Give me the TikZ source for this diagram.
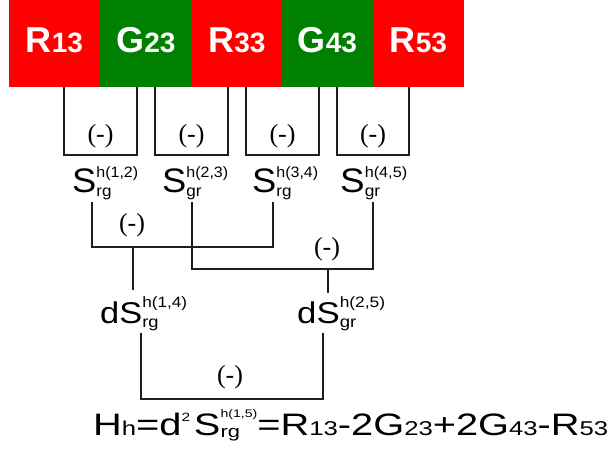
\documentclass[tikz,border=0pt]{standalone}
\usepackage{fontspec}
\usepackage{graphicx}
\setmainfont{Liberation Sans}
\newfontfamily\tms{Liberation Serif}
\definecolor{barred}{RGB}{255,0,0}
\definecolor{bargreen}{RGB}{0,128,0}
\definecolor{wirecol}{RGB}{30,30,30}
\newcommand\fs[1]{\fontsize{#1}{#1}\selectfont}
% main, sup, sub, raise, lower
\newcommand\SL[5]{{#1}\rlap{\raisebox{-#5}{#3}}\raisebox{#4}{#2}}
\tikzset{
  cell/.style={inner sep=0pt, outer sep=0pt, minimum height=87pt, anchor=north west},
  celltxt/.style={text=white, font=\bfseries, inner sep=0pt, anchor=base},
  wire/.style={line width=1.3pt, draw=wirecol},
  minus/.style={font=\tms\fs{26}, inner sep=0pt},
  slab/.style={inner sep=0pt, anchor=base west},
}
\begin{document}
\begin{tikzpicture}[x=1pt,y=-1pt]
\useasboundingbox[fill=white] (0,0) rectangle (611,452);
% colour bar
\node[cell, fill=barred,   minimum width=91pt] (c1) at (9,0) {};
\node[cell, fill=bargreen, minimum width=92pt] (c2) at (100,0) {};
\node[cell, fill=barred,   minimum width=90pt] (c3) at (192,0) {};
\node[cell, fill=bargreen, minimum width=91pt] (c4) at (282,0) {};
\node[cell, fill=barred,   minimum width=91pt] (c5) at (373,0) {};
\node[celltxt] (t1) at (54.5,53) {\fs{36}R\fs{28}13};
\node[celltxt] (t2) at (146,53) {\fs{36}G\fs{28}23};
\node[celltxt] (t3) at (237,53) {\fs{36}R\fs{28}33};
\node[celltxt] (t4) at (327.5,53) {\fs{36}G\fs{28}43};
\node[celltxt] (t5) at (418.5,53) {\fs{36}R\fs{28}53};
% first level brackets
\foreach \i/\l/\r in {1/64/137, 2/155/228, 3/246/319, 4/337/409}{
  \coordinate (p\i a) at (\l,87);
  \coordinate (p\i b) at (\l,155);
  \coordinate (p\i c) at (\r,155);
  \coordinate (p\i d) at (\r,87);
  \draw[wire] (p\i a) -- (p\i b) -- (p\i c) -- (p\i d);
}
\node[minus] (m1) at (100.5,136.5) {(-)};
\node[minus] (m2) at (191.5,136.5) {(-)};
\node[minus] (m3) at (282.5,136.5) {(-)};
\node[minus] (m4) at (373,136.5) {(-)};
% S labels
\node[slab] (s1) at (72,192) {\resizebox{66pt}{\height}{\SL{\fs{34}S}{\fs{15}h(1,2)}{\fs{16}rg}{15pt}{4pt}}};
\node[slab] (s2) at (162,192) {\resizebox{66pt}{\height}{\SL{\fs{34}S}{\fs{15}h(2,3)}{\fs{16}gr}{15pt}{4pt}}};
\node[slab] (s3) at (252,192) {\resizebox{66pt}{\height}{\SL{\fs{34}S}{\fs{15}h(3,4)}{\fs{16}rg}{15pt}{4pt}}};
\node[slab] (s4) at (340,192) {\resizebox{67pt}{\height}{\SL{\fs{34}S}{\fs{15}h(4,5)}{\fs{16}gr}{15pt}{4pt}}};
% second level brackets
\coordinate (q1) at (92,202);
\coordinate (q2) at (192,202);
\coordinate (q3) at (273,202);
\coordinate (q4) at (373,202);
\coordinate (qa1) at (92,247);
\coordinate (qa2) at (273,247);
\coordinate (qb1) at (192,269);
\coordinate (qb2) at (373,269);
\draw[wire] (q1) -- (qa1) -- (qa2) -- (q3);
\draw[wire] (q2) -- (qb1) -- (qb2) -- (q4);
\node[minus] (ma) at (132,225) {(-)};
\node[minus] (mb) at (327,249) {(-)};
\coordinate (sa) at (133,247);
\coordinate (sb) at (328,269);
% dS labels
\node[slab] (d1) at (100,323) {\resizebox{87pt}{\height}{\SL{\fs{30}dS}{\fs{15}h(1,4)}{\fs{16}rg}{16pt}{4pt}}};
\node[slab] (d2) at (297,323) {\resizebox{88pt}{\height}{\SL{\fs{30}dS}{\fs{15}h(2,5)}{\fs{16}gr}{16pt}{4pt}}};
\coordinate (ea) at (133,290);
\coordinate (eb) at (328,293);
\draw[wire] (sa) -- (ea);
\draw[wire] (sb) -- (eb);
% third level bracket
\coordinate (r1) at (141,333);
\coordinate (r2) at (141,399);
\coordinate (r3) at (323,399);
\coordinate (r4) at (323,333);
\draw[wire] (r1) -- (r2) -- (r3) -- (r4);
\node[minus] (mc) at (230,377) {(-)};
% formula
\node[slab] (f) at (93,435) {\resizebox{515pt}{\height}{{\fs{31}H}{\fs{20}h}{\fs{31}=d}\raisebox{14pt}{\fs{12}2}\hspace{3pt}\SL{\fs{31}S}{\fs{11}h(1,5)}{\fs{17}rg}{18pt}{2pt}{\fs{31}=R}{\fs{20}13}{\fs{31}-2G}{\fs{20}23}{\fs{31}+2G}{\fs{20}43}{\fs{31}-R}{\fs{20}53}}};
\end{tikzpicture}
\end{document}
